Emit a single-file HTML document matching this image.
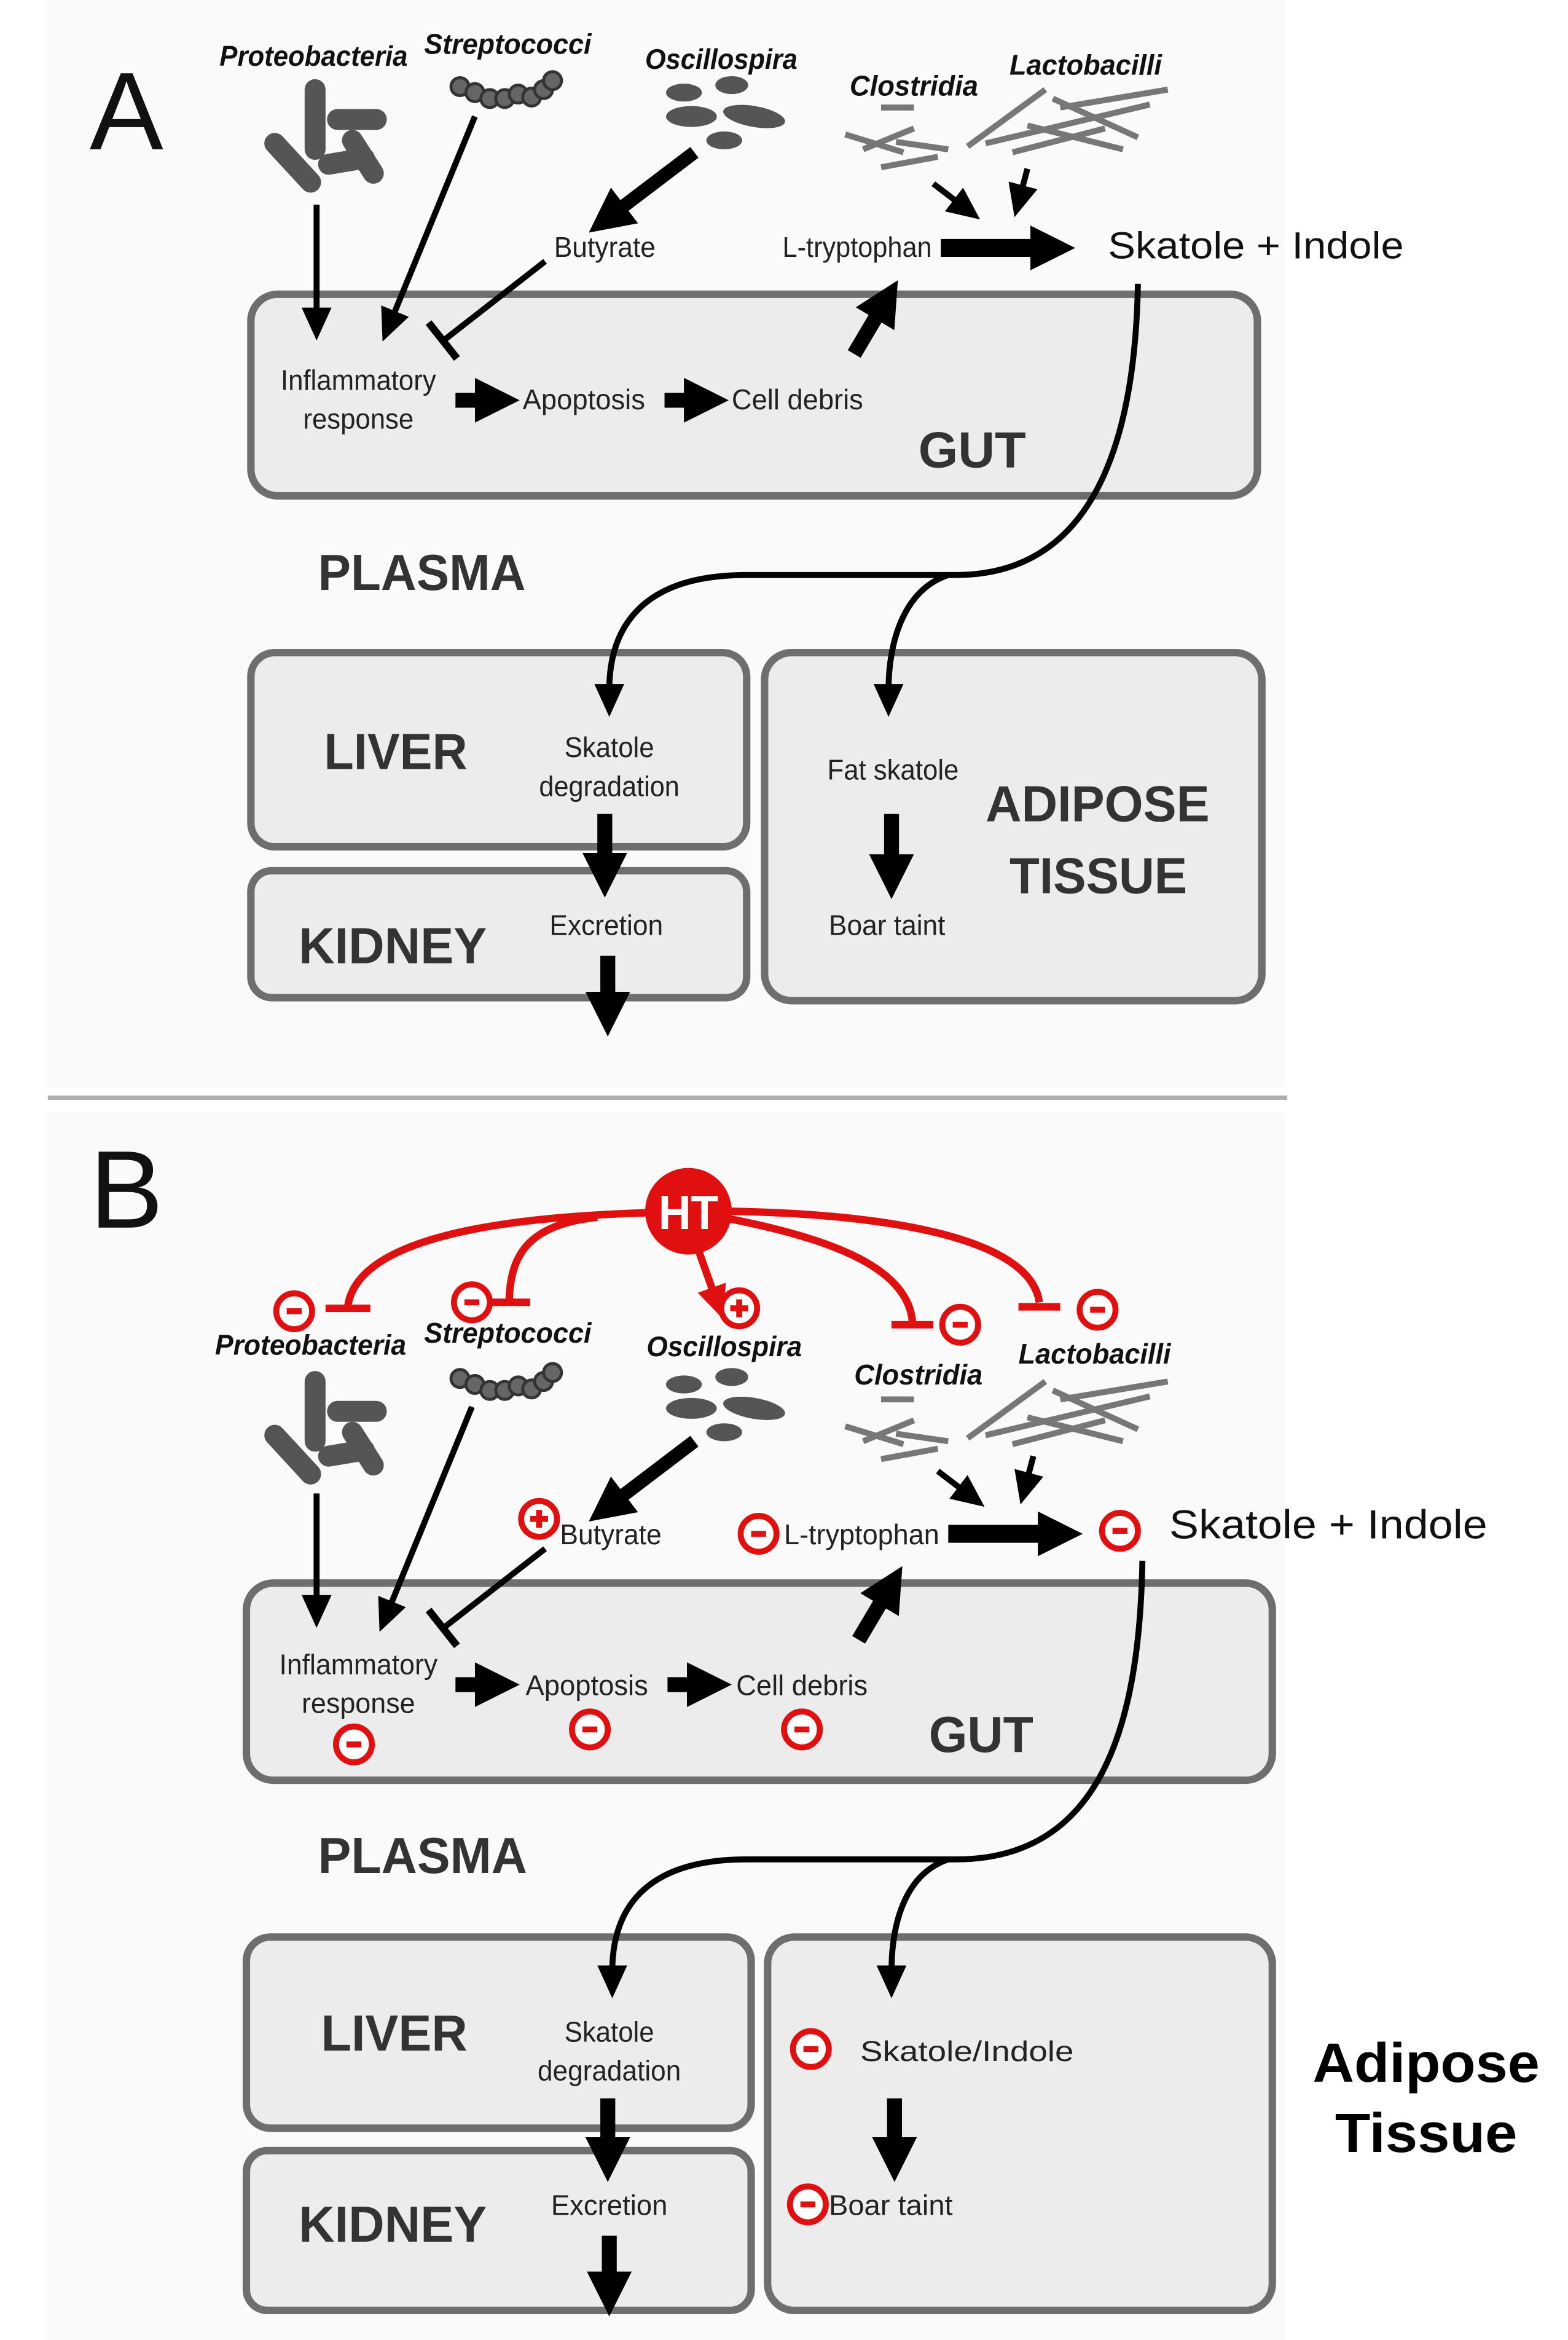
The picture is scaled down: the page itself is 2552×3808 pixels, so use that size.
<!DOCTYPE html>
<html><head><meta charset="utf-8"><style>
html,body{margin:0;padding:0;background:#fff;}
svg{display:block;}
text{font-family:"Liberation Sans",Arial,sans-serif;}
.bx{fill:#ececec;stroke:#6e6e6e;stroke-width:5;}
.bl{font-weight:bold;fill:#333;font-size:34px;}
.sm{fill:#222;font-size:19px;}
.bac{font-weight:bold;font-style:italic;fill:#111;font-size:19px;}
.thin{stroke:#000;stroke-width:4;fill:none;}
.red{stroke:#e01010;stroke-width:5;fill:none;}
.rc{fill:#fff;stroke:#e01010;stroke-width:4;}
.rl{stroke:#e01010;stroke-width:4;}
.pro{stroke:#555;stroke-width:14;stroke-linecap:round;}
.cl{stroke:#777;stroke-width:4;}
</style></head><body>
<svg width="2552" height="3808" viewBox="0 0 1050 1566.8" preserveAspectRatio="none" xmlns="http://www.w3.org/2000/svg">
<defs>
<marker id="big" markerUnits="userSpaceOnUse" markerWidth="30" markerHeight="30" refX="4" refY="15" orient="auto" viewBox="0 0 30 30"><path d="M0,0 L30,15 L0,30 z" fill="#000"/></marker>
<marker id="sa" markerUnits="userSpaceOnUse" markerWidth="22" markerHeight="20" refX="4" refY="10" orient="auto" viewBox="0 0 22 20"><path d="M0,0 L22,10 L0,20 z" fill="#000"/></marker>
<marker id="ra" markerUnits="userSpaceOnUse" markerWidth="22" markerHeight="20" refX="4" refY="10" orient="auto" viewBox="0 0 22 20"><path d="M0,0 L22,10 L0,20 z" fill="#e01010"/></marker>
</defs>
<rect width="1050" height="1567" fill="#fff"/>
<rect x="30" y="0" width="830" height="728" fill="#fafafa"/>
<rect x="30" y="745" width="830" height="822" fill="#fafafa"/>

<!-- ============ PANEL A ============ -->
<text x="60" y="100" font-size="74" fill="#111">A</text>
<rect class="bx" x="168" y="197" width="674" height="135" rx="18"/>
<rect class="bx" x="168" y="437" width="332" height="130" rx="16"/>
<rect class="bx" x="168" y="583" width="332" height="85" rx="14"/>
<rect class="bx" x="512" y="437" width="333" height="233" rx="18"/>

<g>
<line class="pro" x1="211" y1="60" x2="211" y2="100"/>
<line class="pro" x1="226" y1="80" x2="252" y2="80"/>
<line class="pro" x1="184" y1="96" x2="208" y2="122"/>
<line class="pro" x1="220" y1="110" x2="244" y2="106"/>
<line class="pro" x1="236" y1="94" x2="250" y2="116"/>
<g fill="#666" stroke="#333" stroke-width="2">
<circle cx="308" cy="58" r="6"/><circle cx="318" cy="62" r="6"/><circle cx="328" cy="66" r="6"/><circle cx="338" cy="66" r="6"/><circle cx="347" cy="63" r="6"/><circle cx="356" cy="65" r="6"/><circle cx="364" cy="60" r="6"/><circle cx="370" cy="54" r="6"/>
</g>
<g fill="#555">
<ellipse cx="458" cy="62" rx="12" ry="6"/><ellipse cx="490" cy="57" rx="11" ry="6"/>
<ellipse cx="463" cy="78" rx="17" ry="7"/><ellipse cx="505" cy="78" rx="21" ry="7" transform="rotate(10 505 78)"/>
<ellipse cx="485" cy="94" rx="12" ry="6"/>
</g>
<line class="cl" x1="590" y1="72" x2="612" y2="72"/>
<line class="cl" x1="566" y1="90" x2="605" y2="102"/>
<line class="cl" x1="578" y1="100" x2="612" y2="86"/>
<line class="cl" x1="590" y1="112" x2="628" y2="105"/>
<line class="cl" x1="600" y1="95" x2="635" y2="100"/>
<line class="cl" x1="648" y1="98" x2="700" y2="60"/>
<line class="cl" x1="660" y1="96" x2="770" y2="70"/>
<line class="cl" x1="688" y1="84" x2="752" y2="100"/>
<line class="cl" x1="710" y1="72" x2="782" y2="60"/>
<line class="cl" x1="678" y1="102" x2="740" y2="86"/>
<line class="cl" x1="705" y1="66" x2="762" y2="92"/>
</g>

<text class="bac" x="210" y="44" text-anchor="middle" textLength="126" lengthAdjust="spacingAndGlyphs">Proteobacteria</text>
<text class="bac" x="340" y="36" text-anchor="middle" textLength="112" lengthAdjust="spacingAndGlyphs">Streptococci</text>
<text class="bac" x="483" y="46" text-anchor="middle" textLength="102" lengthAdjust="spacingAndGlyphs">Oscillospira</text>
<text class="bac" x="612" y="64" text-anchor="middle" textLength="86" lengthAdjust="spacingAndGlyphs">Clostridia</text>
<text class="bac" x="727" y="50" text-anchor="middle" textLength="102" lengthAdjust="spacingAndGlyphs">Lactobacilli</text>

<text class="sm" x="405" y="172" text-anchor="middle" textLength="68" lengthAdjust="spacingAndGlyphs">Butyrate</text>
<text class="sm" x="574" y="172" text-anchor="middle" textLength="100" lengthAdjust="spacingAndGlyphs">L-tryptophan</text>
<text x="742" y="173" font-size="25" fill="#111" textLength="198" lengthAdjust="spacingAndGlyphs">Skatole + Indole</text>
<text class="sm" x="240" y="261" text-anchor="middle" textLength="104" lengthAdjust="spacingAndGlyphs">Inflammatory</text>
<text class="sm" x="240" y="287" text-anchor="middle" textLength="74" lengthAdjust="spacingAndGlyphs">response</text>
<text class="sm" x="350" y="274" textLength="82" lengthAdjust="spacingAndGlyphs">Apoptosis</text>
<text class="sm" x="490" y="274" textLength="88" lengthAdjust="spacingAndGlyphs">Cell debris</text>
<text class="bl" x="615" y="313" font-size="36" textLength="72" lengthAdjust="spacingAndGlyphs">GUT</text>
<text class="bl" x="213" y="395" textLength="139" lengthAdjust="spacingAndGlyphs">PLASMA</text>
<text class="bl" x="217" y="515" textLength="96" lengthAdjust="spacingAndGlyphs">LIVER</text>
<text class="bl" x="200" y="645" textLength="126" lengthAdjust="spacingAndGlyphs">KIDNEY</text>
<text class="sm" x="408" y="507" text-anchor="middle" textLength="60" lengthAdjust="spacingAndGlyphs">Skatole</text>
<text class="sm" x="408" y="533" text-anchor="middle" textLength="94" lengthAdjust="spacingAndGlyphs">degradation</text>
<text class="sm" x="406" y="626" text-anchor="middle" textLength="76" lengthAdjust="spacingAndGlyphs">Excretion</text>
<text class="sm" x="598" y="522" text-anchor="middle" textLength="88" lengthAdjust="spacingAndGlyphs">Fat skatole</text>
<text class="sm" x="594" y="626" text-anchor="middle" textLength="78" lengthAdjust="spacingAndGlyphs">Boar taint</text>
<text class="bl" x="660" y="550" font-size="36" textLength="150" lengthAdjust="spacingAndGlyphs">ADIPOSE</text>
<text class="bl" x="676" y="598" font-size="36" textLength="119" lengthAdjust="spacingAndGlyphs">TISSUE</text>

<line class="thin" x1="212" y1="137" x2="212" y2="210" marker-end="url(#sa)"/>
<line class="thin" x1="318" y1="78" x2="263" y2="212" marker-end="url(#sa)"/>
<line x1="465" y1="102" x2="415" y2="140" stroke="#000" stroke-width="9" marker-end="url(#big)"/>
<line class="thin" x1="365" y1="175" x2="297" y2="228"/>
<line x1="287" y1="216" x2="306" y2="240" stroke="#000" stroke-width="5"/>
<line x1="305" y1="268" x2="322" y2="268" stroke="#000" stroke-width="10" marker-end="url(#big)"/>
<line x1="445" y1="268" x2="462" y2="268" stroke="#000" stroke-width="10" marker-end="url(#big)"/>
<line x1="572" y1="237" x2="588" y2="210" stroke="#000" stroke-width="10" marker-end="url(#big)"/>
<line x1="630" y1="166" x2="694" y2="166" stroke="#000" stroke-width="12" marker-end="url(#big)"/>
<line class="thin" x1="625" y1="123" x2="642" y2="136" stroke-width="5" marker-end="url(#sa)"/>
<line class="thin" x1="688" y1="113" x2="684" y2="128" stroke-width="5" marker-end="url(#sa)"/>
<path class="thin" d="M762,190 C760,300 730,385 640,385 L500,385 C430,385 408,420 408,462" marker-end="url(#sa)"/>
<path class="thin" d="M635,385 C605,395 595,430 595,462" marker-end="url(#sa)"/>
<line x1="405" y1="545" x2="405" y2="575" stroke="#000" stroke-width="10" marker-end="url(#big)"/>
<line x1="407" y1="640" x2="407" y2="668" stroke="#000" stroke-width="10" marker-end="url(#big)"/>
<line x1="597" y1="545" x2="597" y2="576" stroke="#000" stroke-width="10" marker-end="url(#big)"/>

<line x1="32" y1="735" x2="862" y2="735" stroke="#b0b0b0" stroke-width="3"/>

<!-- ============ PANEL B ============ -->
<text x="60" y="822" font-size="74" fill="#111">B</text>
<rect class="bx" x="165" y="1060" width="687" height="132" rx="18"/>
<rect class="bx" x="165" y="1297" width="338" height="128" rx="16"/>
<rect class="bx" x="165" y="1440" width="338" height="107" rx="14"/>
<rect class="bx" x="514" y="1297" width="338" height="250" rx="18"/>

<g transform="translate(0,865)">
<line class="pro" x1="211" y1="60" x2="211" y2="100"/>
<line class="pro" x1="226" y1="80" x2="252" y2="80"/>
<line class="pro" x1="184" y1="96" x2="208" y2="122"/>
<line class="pro" x1="220" y1="110" x2="244" y2="106"/>
<line class="pro" x1="236" y1="94" x2="250" y2="116"/>
<g fill="#666" stroke="#333" stroke-width="2">
<circle cx="308" cy="58" r="6"/><circle cx="318" cy="62" r="6"/><circle cx="328" cy="66" r="6"/><circle cx="338" cy="66" r="6"/><circle cx="347" cy="63" r="6"/><circle cx="356" cy="65" r="6"/><circle cx="364" cy="60" r="6"/><circle cx="370" cy="54" r="6"/>
</g>
<g fill="#555">
<ellipse cx="458" cy="62" rx="12" ry="6"/><ellipse cx="490" cy="57" rx="11" ry="6"/>
<ellipse cx="463" cy="78" rx="17" ry="7"/><ellipse cx="505" cy="78" rx="21" ry="7" transform="rotate(10 505 78)"/>
<ellipse cx="485" cy="94" rx="12" ry="6"/>
</g>
<line class="cl" x1="590" y1="72" x2="612" y2="72"/>
<line class="cl" x1="566" y1="90" x2="605" y2="102"/>
<line class="cl" x1="578" y1="100" x2="612" y2="86"/>
<line class="cl" x1="590" y1="112" x2="628" y2="105"/>
<line class="cl" x1="600" y1="95" x2="635" y2="100"/>
<line class="cl" x1="648" y1="98" x2="700" y2="60"/>
<line class="cl" x1="660" y1="96" x2="770" y2="70"/>
<line class="cl" x1="688" y1="84" x2="752" y2="100"/>
<line class="cl" x1="710" y1="72" x2="782" y2="60"/>
<line class="cl" x1="678" y1="102" x2="740" y2="86"/>
<line class="cl" x1="705" y1="66" x2="762" y2="92"/>
</g>

<text class="bac" x="208" y="907" text-anchor="middle" textLength="128" lengthAdjust="spacingAndGlyphs">Proteobacteria</text>
<text class="bac" x="340" y="899" text-anchor="middle" textLength="112" lengthAdjust="spacingAndGlyphs">Streptococci</text>
<text class="bac" x="485" y="908" text-anchor="middle" textLength="104" lengthAdjust="spacingAndGlyphs">Oscillospira</text>
<text class="bac" x="615" y="927" text-anchor="middle" textLength="86" lengthAdjust="spacingAndGlyphs">Clostridia</text>
<text class="bac" x="733" y="913" text-anchor="middle" textLength="102" lengthAdjust="spacingAndGlyphs">Lactobacilli</text>

<text class="sm" x="375" y="1034" textLength="68" lengthAdjust="spacingAndGlyphs">Butyrate</text>
<text class="sm" x="525" y="1034" textLength="104" lengthAdjust="spacingAndGlyphs">L-tryptophan</text>
<text x="783" y="1030" font-size="27" fill="#111" textLength="213" lengthAdjust="spacingAndGlyphs">Skatole + Indole</text>
<text class="sm" x="240" y="1121" text-anchor="middle" textLength="106" lengthAdjust="spacingAndGlyphs">Inflammatory</text>
<text class="sm" x="240" y="1147" text-anchor="middle" textLength="76" lengthAdjust="spacingAndGlyphs">response</text>
<text class="sm" x="352" y="1135" textLength="82" lengthAdjust="spacingAndGlyphs">Apoptosis</text>
<text class="sm" x="493" y="1135" textLength="88" lengthAdjust="spacingAndGlyphs">Cell debris</text>
<text class="bl" x="622" y="1173" font-size="36" textLength="70" lengthAdjust="spacingAndGlyphs">GUT</text>
<text class="bl" x="213" y="1254" textLength="140" lengthAdjust="spacingAndGlyphs">PLASMA</text>
<text class="bl" x="215" y="1373" textLength="98" lengthAdjust="spacingAndGlyphs">LIVER</text>
<text class="bl" x="200" y="1501" textLength="126" lengthAdjust="spacingAndGlyphs">KIDNEY</text>
<text class="sm" x="408" y="1367" text-anchor="middle" textLength="60" lengthAdjust="spacingAndGlyphs">Skatole</text>
<text class="sm" x="408" y="1393" text-anchor="middle" textLength="96" lengthAdjust="spacingAndGlyphs">degradation</text>
<text class="sm" x="408" y="1483" text-anchor="middle" textLength="78" lengthAdjust="spacingAndGlyphs">Excretion</text>
<text class="sm" x="576" y="1380" font-size="20" textLength="143" lengthAdjust="spacingAndGlyphs">Skatole/Indole</text>
<text class="sm" x="555" y="1483" textLength="83" lengthAdjust="spacingAndGlyphs">Boar taint</text>
<text x="955" y="1394" text-anchor="middle" font-size="37" font-weight="bold" fill="#000" textLength="152" lengthAdjust="spacingAndGlyphs">Adipose</text>
<text x="955" y="1441" text-anchor="middle" font-size="37" font-weight="bold" fill="#000" textLength="122" lengthAdjust="spacingAndGlyphs">Tissue</text>

<line class="thin" x1="212" y1="1000" x2="212" y2="1072" marker-end="url(#sa)"/>
<line class="thin" x1="316" y1="942" x2="261" y2="1076" marker-end="url(#sa)"/>
<line x1="465" y1="965" x2="415" y2="1003" stroke="#000" stroke-width="9" marker-end="url(#big)"/>
<line class="thin" x1="365" y1="1037" x2="297" y2="1090"/>
<line x1="287" y1="1078" x2="306" y2="1102" stroke="#000" stroke-width="5"/>
<line x1="305" y1="1128" x2="322" y2="1128" stroke="#000" stroke-width="10" marker-end="url(#big)"/>
<line x1="447" y1="1128" x2="464" y2="1128" stroke="#000" stroke-width="10" marker-end="url(#big)"/>
<line x1="575" y1="1098" x2="591" y2="1071" stroke="#000" stroke-width="10" marker-end="url(#big)"/>
<line x1="635" y1="1027" x2="699" y2="1027" stroke="#000" stroke-width="12" marker-end="url(#big)"/>
<line class="thin" x1="628" y1="985" x2="645" y2="998" stroke-width="5" marker-end="url(#sa)"/>
<line class="thin" x1="692" y1="975" x2="688" y2="990" stroke-width="5" marker-end="url(#sa)"/>
<path class="thin" d="M765,1045 C763,1160 735,1245 640,1245 L500,1245 C430,1245 410,1280 410,1320" marker-end="url(#sa)"/>
<path class="thin" d="M635,1245 C605,1255 597,1290 597,1320" marker-end="url(#sa)"/>
<line x1="407" y1="1405" x2="407" y2="1435" stroke="#000" stroke-width="10" marker-end="url(#big)"/>
<line x1="408" y1="1497" x2="408" y2="1525" stroke="#000" stroke-width="10" marker-end="url(#big)"/>
<line x1="599" y1="1405" x2="599" y2="1435" stroke="#000" stroke-width="10" marker-end="url(#big)"/>

<path class="red" d="M435,812 C330,815 240,830 233,874"/>
<line class="red" x1="218" y1="876" x2="248" y2="876"/>
<path class="red" d="M400,815 C352,820 342,842 341,870"/>
<line class="red" x1="327" y1="872" x2="355" y2="872"/>
<line class="red" x1="468" y1="838" x2="478" y2="866" marker-end="url(#ra)"/>
<path class="red" d="M488,816 C560,830 608,850 611,885"/>
<line class="red" x1="597" y1="887" x2="625" y2="887"/>
<path class="red" d="M488,811 C600,813 690,830 696,872"/>
<line class="red" x1="682" y1="875" x2="710" y2="875"/>
<circle cx="461" cy="811" r="29" fill="#e01010"/>
<text x="461" y="823" text-anchor="middle" font-size="32" font-weight="bold" fill="#fff" textLength="40" lengthAdjust="spacingAndGlyphs">HT</text>

<g>
<circle class="rc" cx="197" cy="878" r="12"/><line class="rl" x1="192" y1="878" x2="202" y2="878"/>
<circle class="rc" cx="316" cy="872" r="12"/><line class="rl" x1="311" y1="872" x2="321" y2="872"/>
<circle class="rc" cx="495" cy="876" r="12"/><line class="rl" x1="489" y1="876" x2="501" y2="876"/><line class="rl" x1="495" y1="870" x2="495" y2="882"/>
<circle class="rc" cx="643" cy="887" r="12"/><line class="rl" x1="638" y1="887" x2="648" y2="887"/>
<circle class="rc" cx="735" cy="877" r="12"/><line class="rl" x1="730" y1="877" x2="740" y2="877"/>
<circle class="rc" cx="361" cy="1017" r="12"/><line class="rl" x1="355" y1="1017" x2="367" y2="1017"/><line class="rl" x1="361" y1="1011" x2="361" y2="1023"/>
<circle class="rc" cx="508" cy="1027" r="12"/><line class="rl" x1="503" y1="1027" x2="513" y2="1027"/>
<circle class="rc" cx="750" cy="1025" r="12"/><line class="rl" x1="745" y1="1025" x2="755" y2="1025"/>
<circle class="rc" cx="237" cy="1168" r="12"/><line class="rl" x1="232" y1="1168" x2="242" y2="1168"/>
<circle class="rc" cx="395" cy="1158" r="12"/><line class="rl" x1="390" y1="1158" x2="400" y2="1158"/>
<circle class="rc" cx="537" cy="1158" r="12"/><line class="rl" x1="532" y1="1158" x2="542" y2="1158"/>
<circle class="rc" cx="543" cy="1372" r="12"/><line class="rl" x1="538" y1="1372" x2="548" y2="1372"/>
<circle class="rc" cx="541" cy="1476" r="12"/><line class="rl" x1="536" y1="1476" x2="546" y2="1476"/>
</g>
</svg>
</body></html>
